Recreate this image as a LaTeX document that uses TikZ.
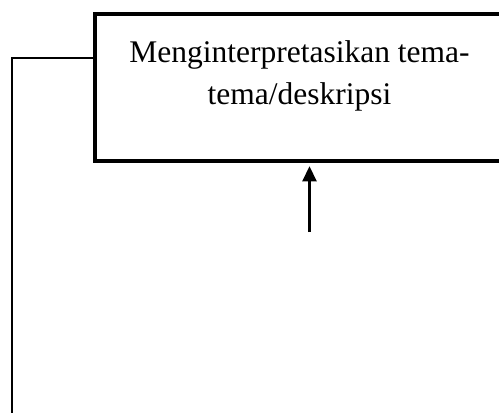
\documentclass[tikz,border=0pt]{standalone}
\usepackage{fontspec}
\setmainfont{Liberation Serif}
\usetikzlibrary{arrows.meta}
\begin{document}
\begin{tikzpicture}[x=1pt,y=1pt,
  boxstyle/.style={draw, line width=4.5pt, inner sep=0pt, minimum width=420pt, minimum height=147pt},
  txt/.style={font=\fontsize{31.5}{42}\selectfont, anchor=base, inner sep=0pt},
  conn/.style={line width=2.2pt},
  arr/.style={line width=2.2pt, -{Triangle[length=15pt,width=14pt]}}]
\useasboundingbox (0,0) rectangle (499,-413);
\node[boxstyle] (box) at (305,-87.5) {};
\node[txt] (l1) at (299.5,-62) {Menginterpretasikan tema-};
\node[txt] (l2) at (299.5,-104) {tema/deskripsi};
\coordinate (c1) at (12,-58);
\coordinate (c2) at (12,-415);
\draw[conn] (box.west |- c1) -- (c1) -- (c2);
\coordinate (a0) at (309.5,-232);
\draw[arr] (a0) -- ([yshift=-3pt]a0 |- box.south);
\end{tikzpicture}
\end{document}
